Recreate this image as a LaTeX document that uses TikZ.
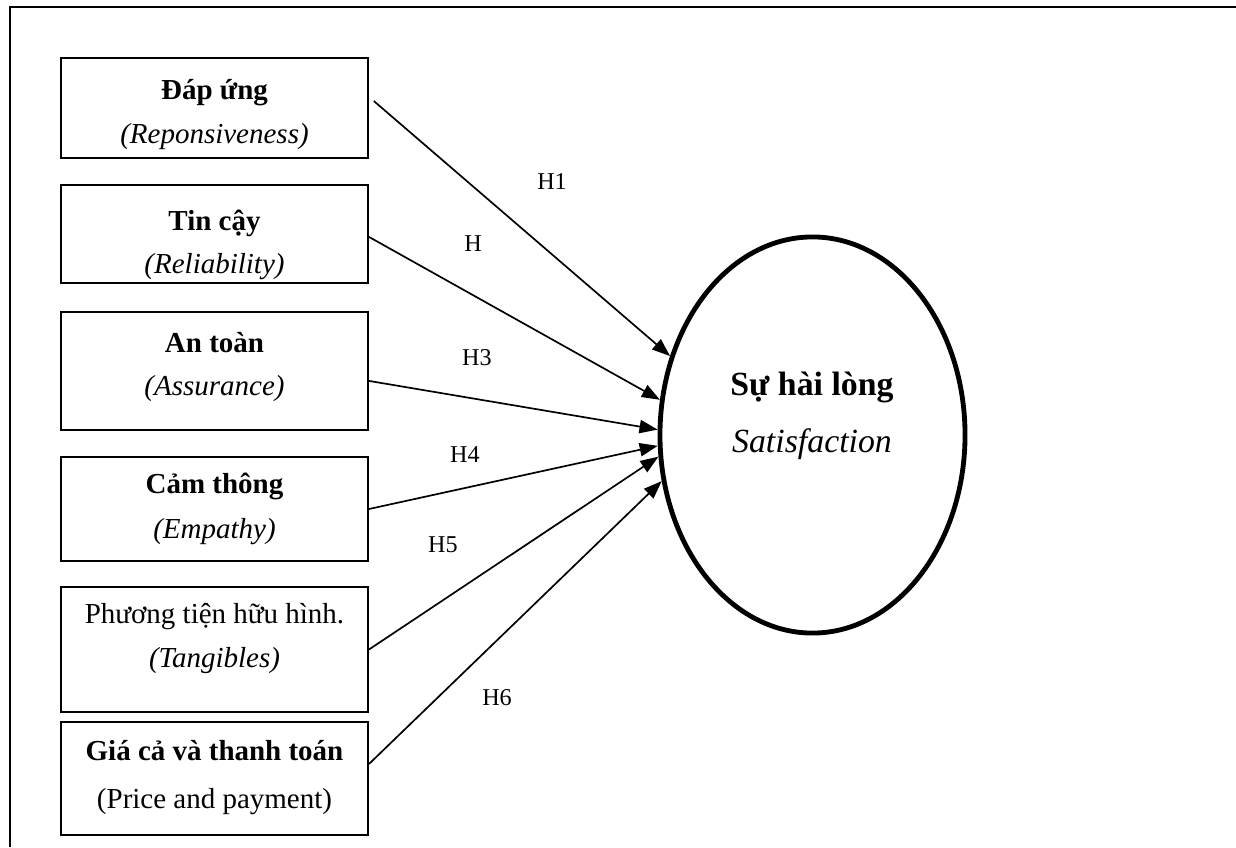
\documentclass[tikz,border=0pt]{standalone}
\usepackage{fontspec}
\setmainfont{Liberation Serif}
\usetikzlibrary{arrows.meta,shapes.geometric}

\begin{document}
\begin{tikzpicture}[x=0.414pt, y=-0.414pt,
    every node/.style={font=\fontsize{12}{14}\selectfont},
    factor/.style={draw, line width=0.8pt, minimum width=127.1pt, inner sep=0pt},
    vname/.style={anchor=base, font=\fontsize{12}{14}\selectfont\bfseries},
    ename/.style={anchor=base, font=\fontsize{12}{14}\selectfont\itshape},
    link/.style={line width=0.7pt, -{Triangle[length=7.5pt, width=5.5pt]}},
    hyp/.style={font=\fontsize{10}{12}\selectfont}]
  \useasboundingbox (0,0) rectangle (1236,847);
  % frame (top and left only)
  \draw[line width=1pt] (1236,7) -- (10,7) -- (10,847);

  % factors
  \node[factor, minimum height=41.4pt] (b1) at (214.5,108) {};
  \node[factor, minimum height=40.6pt] (b2) at (214.5,234) {};
  \node[factor, minimum height=48.9pt] (b3) at (214.5,371) {};
  \node[factor, minimum height=43.1pt] (b4) at (214.5,509) {};
  \node[factor, minimum height=51.8pt] (b5) at (214.5,649.5) {};
  \node[factor, minimum height=46.8pt] (b6) at (214.5,778.5) {};

  \node[vname] (t1) at (214.5,99) {Đáp ứng};
  \node[ename] (e1) at (214.5,143) {(Reponsiveness)};
  \node[vname] (t2) at (214.5,230) {Tin cậy};
  \node[ename] (e2) at (214.5,273) {(Reliability)};
  \node[vname] (t3) at (214.5,352) {An toàn};
  \node[ename] (e3) at (214.5,395) {(Assurance)};
  \node[vname] (t4) at (214.5,493) {Cảm thông};
  \node[ename] (e4) at (214.5,538) {(Empathy)};
  \node[anchor=base] (t5) at (214.5,623) {Phương tiện hữu hình.};
  \node[ename] (e5) at (214.5,667) {(Tangibles)};
  \node[vname] (t6) at (214.5,760) {Giá cả và thanh toán};
  \node[anchor=base] (e6) at (214.5,808) {(Price and payment)};

  % outcome
  \node[ellipse, draw, line width=2pt, minimum width=126.3pt,
        minimum height=164pt, inner sep=0pt] (sat) at (812.5,435) {};
  \node[anchor=base, font=\fontsize{14}{16}\selectfont\bfseries] (s1) at (812,395) {Sự hài lòng};
  \node[anchor=base, font=\fontsize{14}{16}\selectfont\itshape] (s2) at (812,452) {Satisfaction};

  % hypotheses
  \draw[link] ([xshift=2pt, yshift=2.9pt]b1.east) -- (sat.151.6);
  \draw[link] ([yshift=-1.2pt]b2.east) -- (sat.167.9);
  \draw[link] ([yshift=-4.1pt]b3.east) -- (sat.178.1);
  \draw[link] (b4.east) -- (sat.184.5);
  \draw[link] (b5.east) -- (sat.188.9);
  \draw[link] ([yshift=6pt]b6.east) -- (sat.197.9);

  \node[hyp] (h1) at (552,182) {H1};
  \node[hyp] (h2) at (473,244) {H};
  \node[hyp] (h3) at (477,358) {H3};
  \node[hyp] (h4) at (465,455) {H4};
  \node[hyp] (h5) at (443,545) {H5};
  \node[hyp] (h6) at (497,698) {H6};
\end{tikzpicture}
\end{document}
